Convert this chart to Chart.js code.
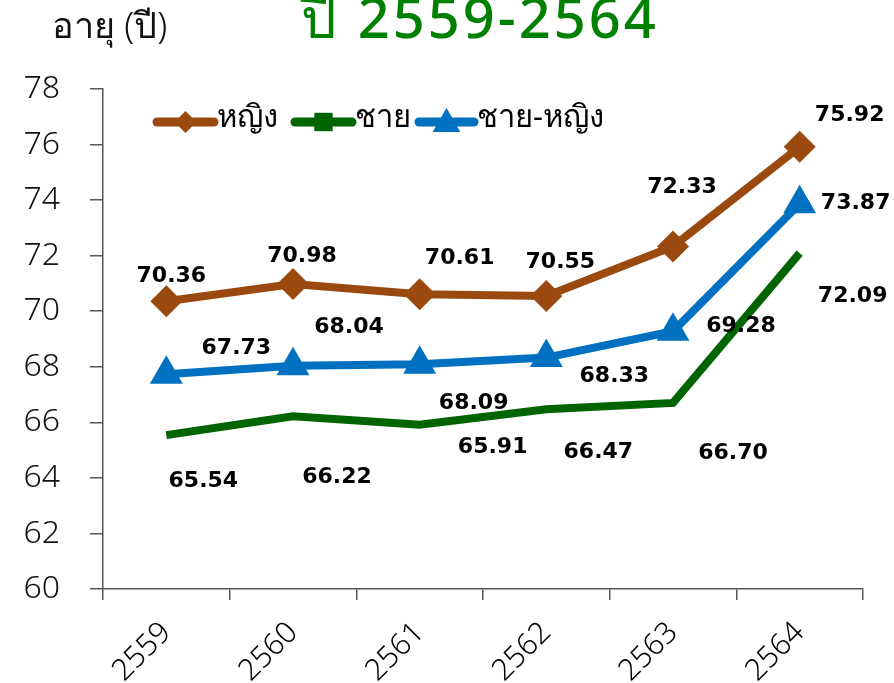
<!DOCTYPE html>
<html>
<head>
<meta charset="utf-8">
<script src="https://cdn.jsdelivr.net/npm/chart.js@4"></script>
<style>
  html, body { margin: 0; padding: 0; background: #fff; }
  #wrap { width: 894px; height: 683px; }
</style>
</head>
<body>
<div id="wrap"><canvas id="graf" width="894" height="683"></canvas></div>
<script>
// Dados
const anos = ["2559", "2560", "2561", "2562", "2563", "2564"];
const mulher = [70.36, 70.98, 70.61, 70.55, 72.33, 75.92];
const homem = [65.54, 66.22, 65.91, 66.47, 66.70, 72.09];
const media = [67.73, 68.04, 68.09, 68.33, 69.28, 73.87];
const nomes = ["หญิง", "ชาย", "ชาย-หญิง"];

// deslocamento dos rótulos (px) em relação ao ponto
const offMulher = [[5, -25], [9, -28], [40, -36], [14, -34], [9, -59], [50, -31]];
const offHomem = [[37, 46], [44, 61], [73, 22], [52, 43], [60, 50], [53, 43]];
const offMedia = [[70, -26], [56, -38], [54, 39], [68, 19], [68, -5], [56, 0]];

const cores = ["#9A4A0E", "#006400", "#0070C0"];
const fonte = "'Noto Sans', 'DejaVu Sans', sans-serif";

const rotulos = {
  id: 'rotulos',
  afterDatasetsDraw(chart) {
    const ctx = chart.ctx;
    const offs = [offMulher, offHomem, offMedia];
    ctx.save();
    ctx.font = "bold 22px 'DejaVu Sans', sans-serif";
    ctx.fillStyle = "#000";
    ctx.textAlign = "center";
    ctx.textBaseline = "middle";
    chart.data.datasets.forEach((ds, i) => {
      chart.getDatasetMeta(i).data.forEach((pt, j) => {
        const o = offs[i][j];
        ctx.fillText(ds.data[j].toFixed(2), pt.x + o[0], pt.y + o[1]);
      });
    });
    ctx.restore();
  }
};

const legenda = {
  id: 'legenda',
  afterDraw(chart) {
    const ctx = chart.ctx;
    const estilos = ['rectRot', 'rect', 'triangle'];
    const raios = [11, 13, 16];
    const larg = [[157, 214], [295, 352], [419, 474]];
    const y = 122;
    ctx.save();
    for (let i = 0; i < 3; i++) {
      ctx.strokeStyle = cores[i];
      ctx.fillStyle = cores[i];
      ctx.lineWidth = 9;
      ctx.lineCap = 'round';
      ctx.beginPath();
      ctx.moveTo(larg[i][0], y);
      ctx.lineTo(larg[i][1], y);
      ctx.stroke();
      const cx = (larg[i][0] + larg[i][1]) / 2;
      Chart.helpers.drawPoint(ctx, { pointStyle: estilos[i], radius: raios[i], borderWidth: 0 }, cx, y + (i === 2 ? 2 : 0));
      ctx.fillStyle = "#000";
      ctx.font = "31px " + fonte;
      ctx.textBaseline = "middle";
      ctx.fillText(nomes[i], larg[i][1] + 3, y - 4);
    }
    // títulos
    ctx.font = "300 36px " + fonte;
    ctx.fillStyle = "#111";
    ctx.textAlign = "left";
    ctx.textBaseline = "alphabetic";
    ctx.fillText("อายุ (ปี)", 52, 38);
    ctx.font = "500 56px " + fonte;
    ctx.letterSpacing = "3px";
    ctx.fillStyle = "#008000";
    ctx.textAlign = "center";
    ctx.fillText("ปี 2559-2564", 480, 38);
    ctx.restore();
  }
};

const ctx = document.getElementById('graf').getContext('2d');
new Chart(ctx, {
  type: 'line',
  data: {
    labels: anos,
    datasets: [
      { label: nomes[0], data: mulher, borderColor: cores[0], backgroundColor: cores[0],
        borderWidth: 8, pointStyle: 'rectRot', pointRadius: 16, pointHoverRadius: 16, pointBorderWidth: 0 },
      { label: nomes[1], data: homem, borderColor: cores[1], backgroundColor: cores[1],
        borderWidth: 8, pointRadius: 0, pointHoverRadius: 0 },
      { label: nomes[2], data: media, borderColor: cores[2], backgroundColor: cores[2],
        borderWidth: 8, pointStyle: 'triangle', pointRadius: 17, pointHoverRadius: 17, pointBorderWidth: 2 }
    ]
  },
  options: {
    responsive: false,
    animation: false,
    layout: { padding: { top: 89, right: 31, left: 0, bottom: 0 } },
    plugins: { legend: { display: false }, tooltip: { enabled: false } },
    scales: {
      x: {
        offset: true,
        grid: { offset: true, drawOnChartArea: false, tickLength: 11, color: '#555', lineWidth: 1.5 },
        border: { color: '#555', width: 1.5 },
        ticks: { minRotation: 45, maxRotation: 45, padding: 15, labelOffset: 0, color: '#000',
          font: { size: 30, family: fonte, weight: '300' } },
        afterFit(s) { s.height = 94; }
      },
      y: {
        min: 60, max: 78,
        ticks: { stepSize: 2, color: '#111', padding: 30, font: { size: 32, family: fonte, weight: '300' } },
        grid: { drawOnChartArea: false, tickLength: 13, color: '#555', lineWidth: 1.5 },
        border: { color: '#555', width: 1.5 },
        afterFit(s) { s.width = 103; }
      }
    }
  },
  plugins: [rotulos, legenda]
});
</script>
</body>
</html>
